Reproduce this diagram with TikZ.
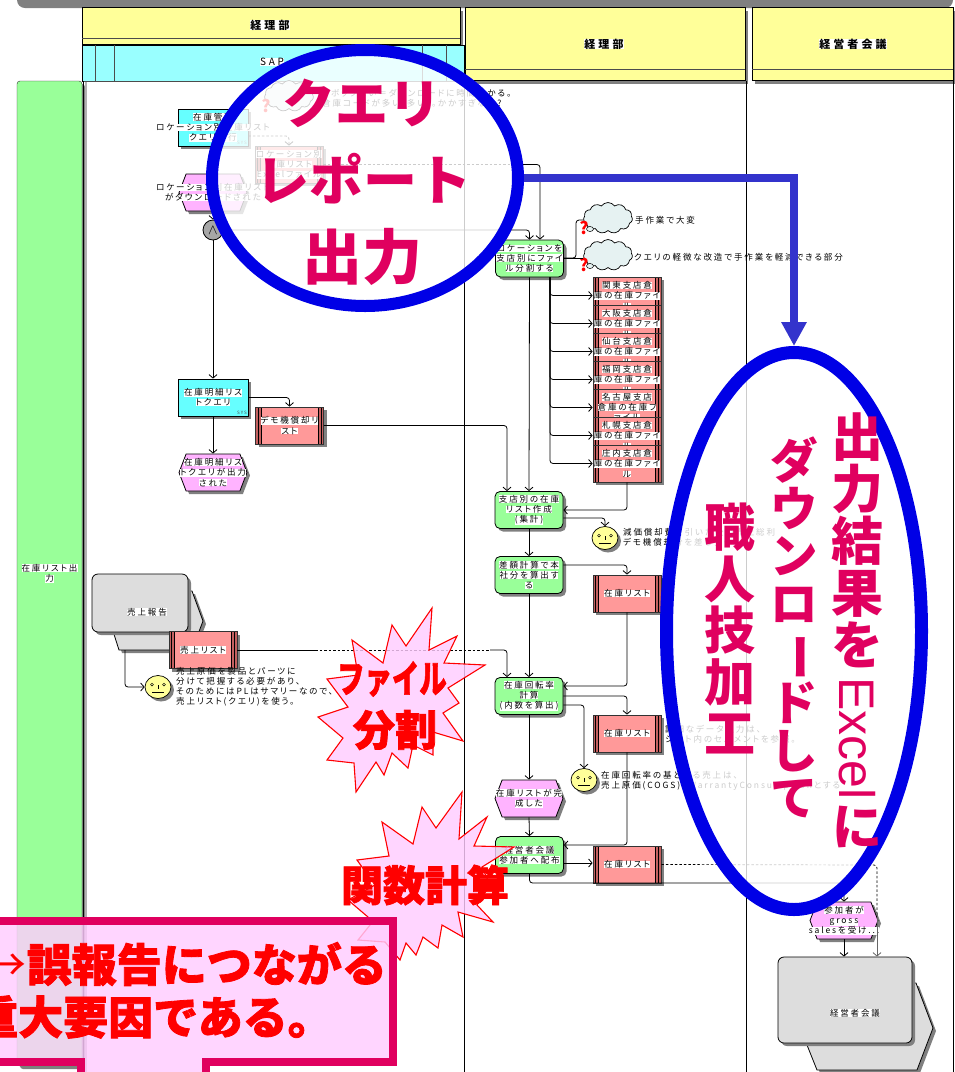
\documentclass[tikz,border=0pt]{standalone}
\usepackage{fontspec}
\setmainfont{Noto Sans CJK JP}
\newfontfamily\jpl[LetterSpace=22,RawFeature=+palt]{Noto Sans CJK JP}
\newfontfamily\jpt[LetterSpace=28]{Noto Sans CJK JP}
\newfontfamily\jph[BoldFeatures={FakeBold=1.8}]{Noto Sans CJK JP}
\newfontfamily\xl{Liberation Sans}
\usetikzlibrary{arrows.meta,shapes.geometric,shapes.symbols,shadows}
\definecolor{ygold}{HTML}{FFFF99}
\definecolor{lcyan}{HTML}{99FFFF}
\definecolor{cyanb}{HTML}{66FFFF}
\definecolor{lgreen}{HTML}{99FF99}
\definecolor{evpink}{HTML}{FFB3FF}
\definecolor{dpink}{HTML}{FF9999}
\definecolor{dbar}{HTML}{C46060}
\definecolor{mag}{HTML}{E0005F}
\definecolor{ringblue}{HTML}{0000E6}
\definecolor{arrblue}{HTML}{3333CC}
\definecolor{burstf}{HTML}{FFCCFF}
\definecolor{cloudf}{HTML}{E6F2F2}
\definecolor{repgray}{HTML}{DDDDDD}
\setlength{\fboxsep}{0pt}
\newcommand\wl[1]{\makebox[0pt]{\colorbox{white}{#1}}}
\newcommand\vb{\rotatebox[origin=c]{-90}{ー}}
\tikzset{
 lbl/.style={font=\jpl\fontsize{8.5}{10.2}\selectfont,align=center,inner sep=0pt},
 sh/.style={drop shadow={shadow xshift=3pt,shadow yshift=-3pt,fill=black!50,opacity=1}},
 funcbox/.style={lbl,sh,draw=black,line width=.8pt,fill=lgreen,rounded corners=5pt,minimum width=68pt,minimum height=37pt},
 sysbox/.style={lbl,sh,draw=black,line width=.8pt,fill=cyanb,minimum width=70pt,minimum height=37pt},
 evbox/.style={lbl,sh,draw=black,line width=.8pt,fill=evpink,signal,signal to=west and east,signal pointer angle=138,minimum width=68pt,minimum height=37pt},
 databox/.style={lbl,sh,draw=black!80,line width=.8pt,fill=dpink,minimum width=68pt,minimum height=37pt,
   path picture={
    \fill[dbar] (path picture bounding box.north west) rectangle ([xshift=5.5pt]path picture bounding box.south west);
    \fill[dbar] (path picture bounding box.north east) rectangle ([xshift=-5.5pt]path picture bounding box.south east);
    \draw[black,line width=.6pt] ([xshift=2.6pt]path picture bounding box.north west) -- ([xshift=2.6pt]path picture bounding box.south west);
    \draw[black,line width=.6pt] ([xshift=5.5pt]path picture bounding box.north west) -- ([xshift=5.5pt]path picture bounding box.south west);
    \draw[black,line width=.6pt] ([xshift=-2.6pt]path picture bounding box.north east) -- ([xshift=-2.6pt]path picture bounding box.south east);
    \draw[black,line width=.6pt] ([xshift=-5.5pt]path picture bounding box.north east) -- ([xshift=-5.5pt]path picture bounding box.south east);
   }},
 facebox/.style={ellipse,draw=black,line width=.7pt,fill=ygold,sh,minimum width=26pt,minimum height=23pt,inner sep=0pt},
 cloudbox/.style={cloud,cloud puffs=11,cloud puff arc=110,aspect=1.6,draw=black,line width=.7pt,fill=cloudf,minimum width=49pt,minimum height=31pt,inner sep=0pt},
 qmark/.style={font=\bfseries\fontsize{17}{17}\selectfont,text=red,inner sep=0pt},
 bubble/.style={ellipse,draw=black,line width=.5pt,fill=cloudf,minimum width=7pt,minimum height=5pt,inner sep=0pt},
 reportbox/.style={lbl,sh,draw=black,line width=.8pt,fill=repgray,rounded corners=6pt},
 reportback/.style={sh,draw=black,line width=.8pt,fill=repgray},
 conn/.style={draw=black,line width=.8pt,rounded corners=3pt,-{Straight Barb[length=3.5pt,width=8pt]}},
 plain/.style={draw=black,line width=.8pt,rounded corners=3pt},
 dashconn/.style={draw=black,line width=.7pt,dash pattern=on 2.5pt off 2pt},
 note/.style={font=\jpl\fontsize{8.5}{10}\selectfont,align=left,inner sep=0pt,anchor=west},
 sysmark/.style={font=\jpl\fontsize{4.5}{5}\selectfont,text=black!70,inner sep=0pt,anchor=south east},
 hdrtext/.style={font=\jpt\bfseries\fontsize{11}{12}\selectfont,fill=white,inner sep=0pt},
 ring/.style={ellipse,draw=ringblue,fill=white,fill opacity=.8,draw opacity=1,inner sep=0pt},
 bigm/.style={text=mag,inner sep=0pt,align=center},
 burst/.style={draw=red,line width=1.1pt,fill=burstf,fill opacity=.82,line join=miter},
 redtext/.style={text=red,inner sep=0pt},
}
\newcommand\face[3]{%
 \node[facebox] (#1) at (#2,#3) {};
 \draw[black,line width=.5pt] ([shift={(-6pt,2.5pt)}]#1.center) circle (1.4pt) ([shift={(6pt,2.5pt)}]#1.center) circle (1.4pt);
 \draw[black,line width=.5pt] ([shift={(0pt,2pt)}]#1.center) -- ([shift={(0pt,-2pt)}]#1.center);
 \draw[black,line width=.5pt] ([shift={(-6pt,-5pt)}]#1.center) -- ([shift={(6pt,-5pt)}]#1.center);
}
\begin{document}
\begin{tikzpicture}[x=1pt,y=-1pt]
\useasboundingbox (0,0) rectangle (955,1072);
\clip (0,0) rectangle (955,1072);
% top bar
\fill[black!50,rounded corners=8pt] (17,-20) rectangle (953,8);
% green lane
\node[lbl,sh,draw=black!80,fill=lgreen,rounded corners=3pt,minimum width=65pt,minimum height=985pt] (lane) at (49.5,573.5) {\wl{在庫リスト出}\\\wl{力}};
% headers
\draw[black!80,line width=.8pt] (82,44) -- (82,81);
\node[sh,draw=black,fill=ygold,line width=.8pt,minimum width=378pt,minimum height=37pt,inner sep=0pt] (h1) at (271,26) {};
\draw[black!70,line width=.8pt] (82,38) -- (460,38);
\node[hdrtext] (h1t) at (270,25) {経理部};
\node[sh,draw=black,fill=ygold,line width=.8pt,minimum width=280pt,minimum height=73pt,inner sep=0pt] (h2) at (605,44) {};
\draw[black!70,line width=.8pt] (465,69) -- (745,69);
\node[hdrtext] (h2t) at (604,44) {経理部};
\node[sh,draw=black,fill=ygold,line width=.8pt,minimum width=201pt,minimum height=73pt,inner sep=0pt] (h3) at (852.5,44) {};
\draw[black!70,line width=.8pt] (752,69) -- (953,69);
\node[hdrtext] (h3t) at (853,44) {経営者会議};
\node[draw=black,fill=lcyan,line width=.8pt,minimum width=382pt,minimum height=36pt,inner sep=0pt] (sap) at (273,63) {};
\foreach \vx in {95,114,422,446} \draw[black!70,line width=.6pt] (\vx,45) -- (\vx,81);
\node[font=\jpt\fontsize{10}{11}\selectfont,fill=white,inner sep=0pt] (sapt) at (272,62) {SAP};
% lane lines
\draw[black!30,line width=2pt] (85.5,82) -- (85.5,1072);
\draw[black,line width=1pt] (83,81) -- (83,1066);
\draw[black,line width=1pt] (464,81) -- (464,1072);
\draw[black,line width=1pt] (746,81) -- (746,1072);
\draw[black,line width=1pt] (953,81) -- (953,1072);
\draw[black!70,line width=1pt] (84,81) -- (464,81);
% left lane process
\node[sysbox] (qa) at (213,127.5) {\wl{在庫管理}\\\wl{ロケーション別在庫リスト}\\\wl{クエリ実行}};
\node[sysmark] (qas) at (247,145) {SYS};
\node[databox] (fb) at (289,164.5) {\wl{ロケーション別}\\\wl{在庫リスト}\\\wl{Excelファイル}};
\node[evbox] (eb) at (213,192.5) {\wl{ロケーション別在庫リスト}\\\wl{がダウンロードされた}};
\node[circle,draw=black,fill=black!35,line width=.8pt,minimum size=20pt,inner sep=0pt,font=\fontsize{14}{14}\selectfont] (op) at (213,230) {$\wedge$};
\node[sysbox] (qd) at (213,397.5) {\wl{在庫明細リス}\\\wl{トクエリ}};
\node[sysmark] (qds) at (247,415) {SYS};
\node[databox] (dm) at (289.5,425.5) {\wl{デモ機償却リ}\\\wl{スト}};
\node[evbox] (ed) at (213,472.5) {\wl{在庫明細リス}\\\wl{トクエリが出力}\\\wl{された}};
% sales report
\path[reportback] (185,591) -- (192,591) -- (203,621) -- (192,650) -- (119,650) -- (112,628) -- cycle;
\coordinate (srb) at (125,650);
\node[reportbox,minimum width=96pt,minimum height=58pt] (sr) at (140,603) {};
\node[font=\jpl\fontsize{8.5}{10}\selectfont,fill=white,inner sep=0pt] (srt) at (147,612) {売上報告};
\node[databox] (ds) at (203,650) {\wl{売上リスト}};
\face{fs}{158}{687}
\node[note] (ns) at (176,687) {売上原価を製品とパーツに\\分けて把握する必要があり、\\そのためにはPLはサマリーなので、\\売上リスト(クエリ)を使う。};
% middle lane
\node[funcbox] (f1) at (529.5,258.5) {\wl{ロケーションを}\\\wl{支店別にファイ}\\\wl{ル分割する}};
\node[cloudbox] (c3) at (289,96) {};
\node[qmark] (q3) at (266,106) {?};
\node[note] (n3) at (322,99) {リボックスい＝ダウンロードに時間掛かる。\\倉庫コードが多い(多い)。かかすぎない?};
\node[cloudbox] (c1) at (608,218) {};
\node[cloudbox] (c2) at (608,255) {};
\node[bubble] (b1) at (590,229) {};
\node[bubble] (b2) at (590,266) {};
\node[qmark] (q1) at (584,228) {?};
\node[qmark] (q2) at (584,265) {?};
\node[note] (n1) at (635,220) {手作業で大変};
\node[note] (n2) at (634,257) {クエリの軽微な改造で手作業を軽減できる部分};
\node[databox] (l1) at (627,295.5) {\wl{関東支店倉}\\\wl{庫の在庫ファイ}\\\wl{ル}};
\node[databox] (l2) at (627,323.5) {\wl{大阪支店倉}\\\wl{庫の在庫ファイ}\\\wl{ル}};
\node[databox] (l3) at (627,351.5) {\wl{仙台支店倉}\\\wl{庫の在庫ファイ}\\\wl{ル}};
\node[databox] (l4) at (627,379.5) {\wl{福岡支店倉}\\\wl{庫の在庫ファイ}\\\wl{ル}};
\node[databox] (l5) at (627,407.5) {\wl{名古屋支店}\\\wl{倉庫の在庫フ}\\\wl{ァイル}};
\node[databox] (l6) at (627,435.5) {\wl{札幌支店倉}\\\wl{庫の在庫ファイ}\\\wl{ル}};
\node[databox] (l7) at (627,463.5) {\wl{庄内支店倉}\\\wl{庫の在庫ファイ}\\\wl{ル}};
\node[funcbox] (f2) at (529,510) {\wl{支店別の在庫}\\\wl{リスト作成}\\\wl{(集計)}};
\face{fa}{605}{538}
\node[note] (na) at (623,537) {減価償却費を引いた後の売上総利\\デモ機償却分を差し引く};
\node[funcbox] (f3) at (529,575) {\wl{差額計算で本}\\\wl{社分を算出す}\\\wl{る}};
\node[databox] (d1) at (627,593.5) {\wl{在庫リスト}};
\node[funcbox] (f4) at (529,696) {\wl{在庫回転率}\\\wl{計算}\\\wl{(内数を算出)}};
\node[databox] (d2) at (627,733.5) {\wl{在庫リスト}};
\node[note] (nd) at (665,734) {詳細なデータ入力は、\\シート内のセルメントを参照。};
\face{fb2}{584}{780}
\node[note] (nb) at (601,781) {在庫回転率の基となる売上は、\\売上原価(COGS)+WarrantyConsumptionとする};
\node[evbox] (ee) at (529,798.5) {\wl{在庫リストが完}\\\wl{成した}};
\node[funcbox] (f5) at (529.5,855) {\wl{経営者会議}\\\wl{参加者へ配布}};
\node[databox] (d3) at (627,864.5) {\wl{在庫リスト}};
% right lane
\node[evbox] (eg) at (844,920.5) {\wl{参加者が}\\\wl{gross}\\\wl{salesを受け...}};
\path[reportback] (905,983) -- (916,983) -- (933,1028) -- (917,1070) -- (817,1070) -- (805,1040) -- cycle;
\node[reportbox,minimum width=134pt,minimum height=86pt] (rp) at (845,1000) {};
\node[font=\jpl\fontsize{8.5}{10}\selectfont,fill=white,inner sep=0pt] (rpt) at (855,1013) {経営者会議};
% connectors
\draw[conn,dash pattern=on 2.5pt off 2pt] (qa.east |- 0,136) -| (fb.north);
\draw[conn] (eb.south) -- (op.north);
\draw[conn] (op.south) -- (qd.north);
\draw[conn] (op.east) -| (f1.north);
\coordinate (bk) at (520,164.5);
\draw[dashconn] (fb.east) -- (bk);
\draw[conn] (bk) -| (f1.north -| 540,0);
\draw[plain] (f1.east |- 0,258) -| (576,220) -- (c1.west |- 0,220);
\draw[plain] (f1.east |- 0,258) -- (c2.west |- 0,258);
\foreach \k in {1,...,7} \draw[conn] (f1.south -| 550,0) |- (l\k.west);
\draw[conn] (f1.south) -- (f2.north);
\draw[conn] (qd.east) -| (dm.north);
\draw[conn] (qd.south) -- (ed.north);
\draw[conn] (dm.east) -| (f2.north -| 507,0);
\draw[conn] (l7.south) |- (f2.east);
\draw[conn] (f2.east |- 0,518) -| (fa.north);
\draw[conn] (f2.south) -- (f3.north);
\draw[conn] (f3.east |- 0,565) -| (d1.north);
\draw[conn] (f3.south) -- (f4.north);
\draw[conn] (d1.south) |- (f4.east |- 0,686);
\coordinate (s1) at (315,650);
\coordinate (s2) at (490,650);
\draw[plain] (ds.east) -- (s1);
\draw[dashconn] (s1) -- (s2);
\draw[conn] (s2) -| (f4.north -| 507,0);
\draw[conn] (srb) |- (fs.west);
\draw[conn] (f4.east |- 0,696) -| (d2.north);
\draw[conn] (f4.east |- 0,705) -| (fb2.north);
\draw[conn] (f4.south) -- (ee.north);
\draw[conn] (ee.south) -- (f5.north);
\draw[conn] (d2.south) |- (f5.east |- 0,845);
\draw[conn] (f5.east |- 0,863) -- (d3.west |- 0,863);
\draw[conn] (f5.south) |- (844,883) -- (eg.north);
\coordinate (dd) at (877,865);
\coordinate (de) at (877,913);
\draw[dashconn,rounded corners=3pt] (d3.east) -- (dd) -- (de);
\draw[conn,black!60] (de) -- (rp.north -| 877,0);
\draw[conn] (eg.south) -- (rp.north -| 844,0);
% rings
\node[ring,line width=12pt,minimum width=306pt,minimum height=256pt] (e1) at (365,178) {};
\node[ring,line width=13pt,minimum width=255pt,minimum height=557pt] (e2) at (794,631) {};
\draw[arrblue,line width=8.5pt,-{Triangle[length=24pt,width=24pt]}] (e1.east) -| (e2.north);
\node[bigm,font=\bfseries\fontsize{53}{53}\selectfont] (t1) at (362,103) {クエリ};
\node[bigm,font=\bfseries\fontsize{54}{54}\selectfont] (t2) at (363,179) {レポート};
\node[bigm,font=\bfseries\fontsize{60}{60}\selectfont] (t3) at (362,257) {出力};
\node[bigm,font=\bfseries\fontsize{51}{51.4}\selectfont,anchor=north] (v1) at (730,503) {職\\人\\技\\加\\工};
\node[bigm,font=\bfseries\fontsize{47.5}{47.5}\selectfont,anchor=north] (v2) at (794,437) {ダ\\ウ\\ン\\ロ\\\vb\\ド\\し\\て};
\node[bigm,font=\bfseries\fontsize{52}{52}\selectfont,anchor=north] (v3) at (857,413) {出\\力\\結\\果\\を};
\node[text=mag,inner sep=0pt,font=\xl\fontsize{50}{50}\selectfont,rotate=-90,anchor=west] (v4) at (857,677) {Excel};
\node[bigm,font=\bfseries\fontsize{50}{50}\selectfont] (v5) at (857,827) {に};
% bursts
\path[burst] (432,608)--(429,650)--(457,636)--(444,663)--(485,665)--(448,688)--(459,703)--(443,713)--(463,741)--(433,732)--(433,755)--(413,745)--(408,768)--(392,753)--(384,775)--(376,762)--(356,792)--(354,763)--(327,760)--(343,738)--(318,717)--(348,707)--(327,679)--(358,675)--(352,640)--(383,663)--(392,625)--(406,646)--cycle;
\path[burst] (462,792)--(459,839)--(487,817)--(474,846)--(514,847)--(482,867)--(490,885)--(477,905)--(493,922)--(458,912)--(463,937)--(442,925)--(438,948)--(423,937)--(416,955)--(406,943)--(400,960)--(385,942)--(358,940)--(370,925)--(368,917)--(348,900)--(375,885)--(357,860)--(389,856)--(382,822)--(413,844)--(422,807)--(436,828)--cycle;
\node[redtext,font=\jph\bfseries\fontsize{38}{38}\selectfont,xscale=.72,transform shape] (b1t) at (392,679) {ファイル};
\node[redtext,font=\jph\bfseries\fontsize{42}{42}\selectfont] (b1u) at (395,730) {分割};
\node[redtext,font=\jph\bfseries\fontsize{42}{42}\selectfont] (b2t) at (425,885) {関数計算};
% callout frame
\path[draw=mag,line width=8pt,fill=burstf,fill opacity=.82,draw opacity=1] (-20,921) -- (393,921) -- (393,1062) -- (206,1062) -- (206,1090) -- (81,1090) -- (81,1062) -- (-20,1062) -- cycle;
\node[redtext,font=\jph\bfseries\fontsize{45}{45}\selectfont,anchor=east] (ct1) at (387,964) {{\normalfont\fontsize{45}{45}\selectfont →}誤報告につながる};
\node[redtext,font=\jph\bfseries\fontsize{45}{45}\selectfont,anchor=west] (ct2) at (-27,1017) {重大要因である。};
\end{tikzpicture}
\end{document}
